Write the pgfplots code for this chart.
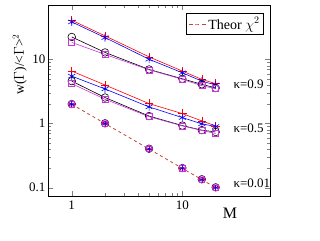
\documentclass[border=0pt]{standalone}
\usepackage{pgfplots}
\pgfplotsset{compat=1.18}
\usepackage{fontspec}
\setmainfont{Liberation Serif}
\definecolor{mymag}{RGB}{205,50,225}
\definecolor{theo}{RGB}{195,70,50}
\begin{document}
\begin{tikzpicture}
\path[use as bounding box] (-48pt,-44pt) rectangle (272pt,196pt);
\begin{axis}[
  at={(0pt,0pt)}, anchor=south west,
  scale only axis, width=222pt, height=191pt,
  xmode=log, ymode=log,
  xmin=0.61, xmax=62, ymin=0.074, ymax=71,
  xtick={1,10}, xticklabels={1,10},
  ytick={0.1,1,10}, yticklabels={0.1,1,10},
  /pgf/number format/assume math mode=true,
  tick label style={font=\fontsize{13}{14}\selectfont},
  xticklabel style={yshift=-1pt},
  yticklabel style={xshift=1pt},
  axis line style={line width=0.8pt},
  major tick length=5pt, minor tick length=3pt,
  xlabel={M}, xlabel style={at={(axis description cs:0.82,-0.045)}, anchor=north, font=\fontsize{16}{17}\selectfont},
  ylabel={w($\Gamma$)/<$\Gamma$>$^2$}, ylabel style={at={(axis description cs:-0.08,0.69)}, anchor=south, font=\fontsize{13.5}{14}\selectfont},
  legend style={at={(axis description cs:0.973,0.958)}, anchor=north east, draw=black, line width=0.8pt, font=\fontsize{14}{15}\selectfont, inner sep=2pt},
  legend cell align=left,
  every axis plot/.append style={line width=0.6pt},
]
\addlegendimage{theo, dash pattern=on 4pt off 2.5pt, line width=0.8pt}
\addlegendentry{Theor $\chi^{2}$}
% kappa = 0.9
\addplot[red, mark=+, mark size=4.2pt, forget plot] coordinates {(1,41) (2,23.4) (5,11) (10,6.6) (15,4.9) (20,4.2)};
\addplot[blue, mark=asterisk, mark size=4pt, forget plot] coordinates {(1,38.6) (2,22) (5,10.1) (10,6.2) (15,4.6) (20,4.0)};
\addplot[black, mark=o, mark size=3.8pt, forget plot] coordinates {(1,22.5) (2,12.9) (5,7.0) (10,5.0) (15,4.1) (20,3.6)};
\addplot[mymag, mark=square, mark size=3pt, forget plot] coordinates {(1,18.5) (2,12) (5,6.9) (10,4.9) (15,3.9) (20,3.5)};
% kappa = 0.5
\addplot[red, mark=+, mark size=4.2pt, forget plot] coordinates {(1,6.6) (2,4.0) (5,2.05) (10,1.43) (15,1.1) (20,0.92)};
\addplot[blue, mark=asterisk, mark size=4pt, forget plot] coordinates {(1,5.5) (2,3.47) (5,1.82) (10,1.24) (15,0.99) (20,0.9)};
\addplot[black, mark=o, mark size=3.8pt, forget plot] coordinates {(1,4.6) (2,2.55) (5,1.31) (10,0.93) (15,0.79) (20,0.74)};
\addplot[mymag, mark=square, mark size=3pt, forget plot] coordinates {(1,4.2) (2,2.4) (5,1.28) (10,0.92) (15,0.78) (20,0.70)};
% kappa = 0.01
\addplot[theo, dashed, line width=0.8pt, forget plot] coordinates {(1,2) (2,1) (5,0.4) (10,0.2) (15,0.1333) (20,0.1)};
\addplot[only marks, black, mark=o, mark size=3.8pt, forget plot] coordinates {(1,2.02) (2,1.01) (5,0.405) (10,0.202) (15,0.135) (20,0.101)};
\addplot[only marks, mymag, mark=o, mark size=3.4pt, forget plot] coordinates {(1,2.02) (2,1.01) (5,0.405) (10,0.202) (15,0.135) (20,0.101)};
\addplot[only marks, mymag, mark=square, mark size=2.6pt, forget plot] coordinates {(1,2) (2,1) (5,0.4) (10,0.2) (15,0.1333) (20,0.1)};
\addplot[only marks, red, mark=+, mark size=3pt, forget plot] coordinates {(1,2) (2,1) (5,0.4) (10,0.2) (15,0.1333) (20,0.1)};
\addplot[only marks, blue, mark=asterisk, mark size=2.6pt, forget plot] coordinates {(1,2) (2,1) (5,0.4) (10,0.2) (15,0.1333) (20,0.1)};
\node[anchor=west, font=\fontsize{13}{14}\selectfont] at (axis cs:27,4.1) {κ=0.9};
\node[anchor=west, font=\fontsize{13}{14}\selectfont] at (axis cs:27,0.845) {κ=0.5};
\node[anchor=west, font=\fontsize{13}{14}\selectfont] at (axis cs:27,0.117) {κ=0.01};
\end{axis}
\end{tikzpicture}
\end{document}
